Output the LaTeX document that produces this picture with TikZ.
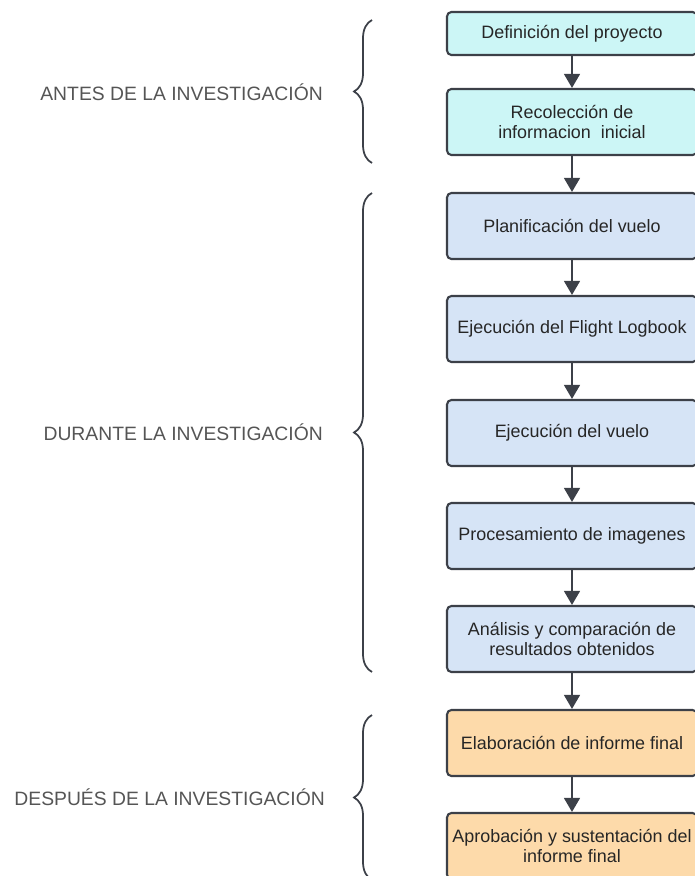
\documentclass[tikz,border=0pt]{standalone}
\usepackage{fontspec}
\setmainfont{Liberation Sans}
\usetikzlibrary{positioning, arrows.meta, decorations.pathreplacing}
\definecolor{boxline}{RGB}{60, 64, 72}
\definecolor{antesfill}{RGB}{204, 246, 246}
\definecolor{durantefill}{RGB}{214, 228, 246}
\definecolor{despuesfill}{RGB}{253, 218, 170}
\definecolor{labelgray}{RGB}{85, 85, 85}

\begin{document}
\begin{tikzpicture}[x=0.02cm, y=-0.02cm, >={Triangle[width=9pt, length=8pt]},
  stepbox/.style={draw=boxline, line width=1.2pt, rounded corners=2.5pt,
    minimum width=5cm, minimum height=1.32cm, align=center, inner xsep=1pt,
    font=\fontsize{10.2}{10.9}\selectfont, text=black!85},
  phase/.style={anchor=east, font=\fontsize{11}{13}\selectfont, text=labelgray},
  flow/.style={->, draw=boxline, fill=boxline, line width=1.2pt},
  bracket/.style={draw=boxline, line width=1pt,
    decorate, decoration={brace, amplitude=0.36cm}}]
  \useasboundingbox (0,0) rectangle (695,876);

  % boxes
  \node[stepbox, fill=antesfill, minimum height=0.86cm] (b1) at (572,33.5) {Definición del proyecto};
  \node[stepbox, fill=antesfill] (b2) at (572,122) {Recolección de\\informacion\ \ inicial};
  \node[stepbox, fill=durantefill] (b3) at (572,226) {Planificación del vuelo};
  \node[stepbox, fill=durantefill] (b4) at (572,329) {Ejecución del Flight Logbook};
  \node[stepbox, fill=durantefill] (b5) at (572,433) {Ejecución del vuelo};
  \node[stepbox, fill=durantefill] (b6) at (572,536) {Procesamiento de imagenes};
  \node[stepbox, fill=durantefill] (b7) at (572,639) {Análisis y comparación de\\resultados obtenidos};
  \node[stepbox, fill=despuesfill] (b8) at (572,743) {Elaboración de informe final};
  \node[stepbox, fill=despuesfill] (b9) at (572,846) {Aprobación y sustentación del\\informe final};

  % arrows
  \foreach \a/\b in {b1/b2, b2/b3, b3/b4, b4/b5, b5/b6, b6/b7, b7/b8, b8/b9}
    \draw[flow] (\a) -- (\b);

  % braces
  \coordinate (antesbot) at (372,163);
  \coordinate (antestop) at (372,20);
  \coordinate (durbot) at (372,672);
  \coordinate (durtop) at (372,193);
  \coordinate (despbot) at (372,880);
  \coordinate (desptop) at (372,715);
  \draw[bracket] (antesbot) -- (antestop);
  \draw[bracket] (durbot) -- (durtop);
  \draw[bracket] (despbot) -- (desptop);

  % phase labels
  \node[phase] (antes) at (329,92) {ANTES DE LA INVESTIGACIÓN};
  \node[phase] (durante) at (329,432) {DURANTE LA INVESTIGACIÓN};
  \node[phase] (despues) at (331,797) {DESPUÉS DE LA INVESTIGACIÓN};
\end{tikzpicture}
\end{document}
